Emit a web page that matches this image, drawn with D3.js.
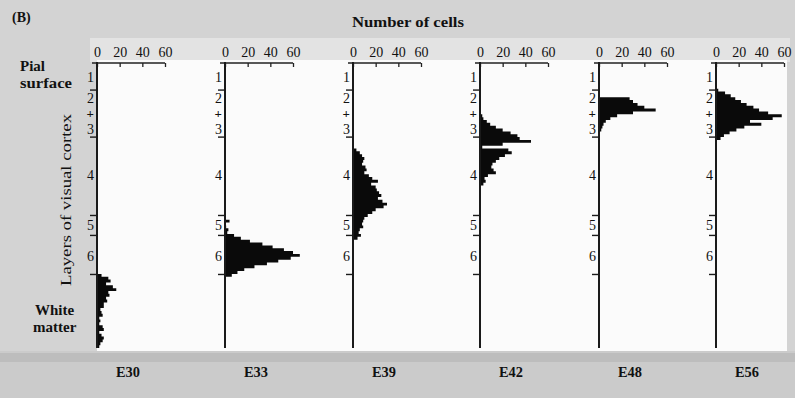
<!DOCTYPE html>
<html>
<head>
<meta charset="utf-8">
<script src="https://cdn.jsdelivr.net/npm/d3@7"></script>
<style>
  html, body { margin: 0; padding: 0; background: #d4d4d4; }
  svg { display: block; }
  text { font-family: "Liberation Serif", "DejaVu Serif", serif; fill: #111; }
</style>
</head>
<body>
<svg id="chart" width="795" height="398"></svg>
<script>
// Embryonic ages, one histogram panel each
const ages = ["E30", "E33", "E39", "E42", "E48", "E56"];

// Depth (0 = pial surface, 100 = bottom of white matter) of each panel's first bin
const binStart = [74, 54, 30, 18, 12, 9];

// Number of labelled cells per 1-unit depth bin
const countsE30 = [4, 10, 12, 8, 14, 17, 10, 11, 8, 9, 6, 6, 3, 4, 5, 2, 3, 2, 5, 6, 2, 4, 6, 5, 3, 2];
const countsE33 = [0, 4, 0, 1, 3, 2, 8, 14, 22, 33, 42, 52, 60, 66, 58, 47, 37, 26, 17, 11, 6];
const countsE39 = [3, 6, 8, 10, 9, 8, 11, 12, 10, 14, 17, 22, 16, 20, 21, 23, 25, 22, 26, 30, 27, 20, 17, 13, 10, 9, 8, 9, 6, 5, 7, 4];
const countsE42 = [2, 3, 6, 9, 14, 20, 27, 33, 35, 45, 20, 2, 25, 28, 22, 17, 14, 11, 10, 12, 14, 7, 4, 5, 3];
const countsE48 = [27, 30, 34, 40, 50, 30, 16, 10, 6, 4, 3, 2];
const countsE56 = [2, 8, 13, 17, 22, 27, 33, 38, 46, 58, 50, 30, 40, 25, 18, 12, 7, 4];
const seriesCounts = [countsE30, countsE33, countsE39, countsE42, countsE48, countsE56];

// Top axis ticks (number of cells)
const cellTicks = [0, 20, 40, 60];

// Cortical layer labels and their depths; layer boundary depths
const layerLabels = ["1", "2", "+", "3", "4", "5", "6"];
const layerLabelDepth = [4.9, 12.2, 17.6, 23.0, 39.3, 56.8, 67.7];
const layerBounds = [9.5, 26, 53.5, 60.5, 74.2];

// ---- layout ----
const svg = d3.select("#chart");
const panelX = [97, 225, 353, 480, 599, 716];   // x of each panel's depth axis
const yTop = 63, yBottom = 348, cellWidth = 68;

// scanned-page backdrop
svg.append("rect").attr("x", 0).attr("y", 0).attr("width", 795).attr("height", 398).attr("fill", "#d3d3d3");
svg.append("rect").attr("x", 90).attr("y", 38).attr("width", 700).attr("height", 24).attr("fill", "#e3e3e3");
svg.append("rect").attr("x", 97).attr("y", 60).attr("width", 690).attr("height", 291).attr("fill", "#fbfbfb");
svg.append("rect").attr("x", 0).attr("y", 351).attr("width", 795).attr("height", 47).attr("fill", "#cbcbcb");
svg.append("rect").attr("x", 0).attr("y", 353).attr("width", 795).attr("height", 9).attr("fill", "#bdbdbd");

const y = d3.scaleLinear().domain([0, 100]).range([yTop, yBottom]);

ages.forEach((age, i) => {
  const x0 = panelX[i];
  const x = d3.scaleLinear().domain([0, 60]).range([x0, x0 + cellWidth]);
  const g = svg.append("g");

  // histogram as one stepped outline: each bin spans [d, d+1] in depth
  const pts = [];
  seriesCounts[i].forEach((c, k) => {
    const d = binStart[i] + k;
    pts.push({ c, d }, { c, d: d + 1 });
  });
  const area = d3.area()
    .x0(() => x(0))
    .x1(p => x(p.c))
    .y(p => y(p.d));
  g.append("path").attr("d", area(pts)).attr("fill", "#0a0a0a");

  // top axis: number of cells
  const ax = g.append("g").attr("transform", `translate(0,${yTop})`)
    .call(d3.axisTop(x).tickValues(cellTicks).tickSizeInner(-4).tickSizeOuter(0).tickPadding(6));
  ax.select(".domain").attr("d", `M${x0 - 5},0H${x(60)}`).attr("stroke", "#222").attr("stroke-width", 1.6);
  ax.selectAll(".tick line").attr("stroke", "#222").attr("stroke-width", 1.3);
  ax.selectAll(".tick text").attr("font-family", "Liberation Serif").attr("font-size", 14).attr("fill", "#111");

  // depth axis
  g.append("line").attr("x1", x0).attr("x2", x0).attr("y1", yTop - 1).attr("y2", yBottom)
    .attr("stroke", "#1a1a1a").attr("stroke-width", 2);

  // layer boundary ticks
  g.append("g").selectAll("line").data(layerBounds).join("line")
    .attr("x1", x0 - 7).attr("x2", x0 + 1)
    .attr("y1", d => y(d)).attr("y2", d => y(d))
    .attr("stroke", "#1a1a1a").attr("stroke-width", 1.4);

  // layer labels
  g.append("g").selectAll("text").data(layerLabels).join("text")
    .attr("x", x0 - 3)
    .attr("y", (d, k) => y(layerLabelDepth[k]))
    .attr("dy", "0.36em")
    .attr("text-anchor", "end")
    .attr("font-size", d => d === "+" ? 13 : 14)
    .attr("font-weight", d => d === "+" ? "bold" : "normal")
    .text(d => d);

  // age label
  g.append("text").attr("x", x0 + 31).attr("y", 377)
    .attr("text-anchor", "middle").attr("font-size", 15).attr("font-weight", "bold")
    .attr("textLength", 24).attr("lengthAdjust", "spacingAndGlyphs")
    .text(age);
});

// titles and side annotations
svg.append("text").attr("x", 12).attr("y", 22).attr("font-size", 14).attr("font-weight", "bold").text("(B)");
svg.append("text").attr("x", 408).attr("y", 27).attr("text-anchor", "middle").attr("font-size", 15)
  .attr("font-weight", "bold").attr("textLength", 112).attr("lengthAdjust", "spacingAndGlyphs").text("Number of cells");
svg.append("text").attr("x", 20).attr("y", 71).attr("font-size", 15).attr("font-weight", "bold").text("Pial");
svg.append("text").attr("x", 20).attr("y", 88).attr("font-size", 15).attr("font-weight", "bold")
  .attr("textLength", 52).attr("lengthAdjust", "spacingAndGlyphs").text("surface");
svg.append("text").attr("transform", "translate(71,200) rotate(-90)").attr("text-anchor", "middle")
  .attr("font-size", 15).attr("textLength", 172).attr("lengthAdjust", "spacingAndGlyphs").text("Layers of visual cortex");
svg.append("text").attr("x", 35).attr("y", 315).attr("font-size", 15).attr("font-weight", "bold").text("White");
svg.append("text").attr("x", 33).attr("y", 332).attr("font-size", 15).attr("font-weight", "bold").text("matter");
</script>
</body>
</html>
